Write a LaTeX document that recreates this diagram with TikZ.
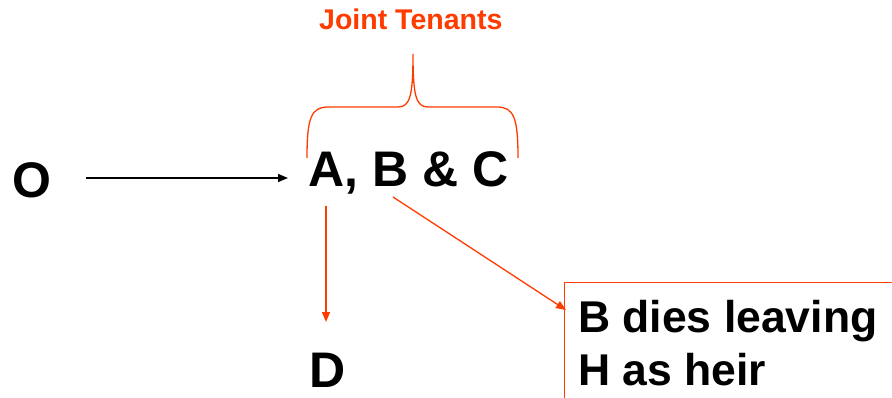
\documentclass[tikz,border=0pt]{standalone}
\usepackage{fontspec}
\setmainfont{Liberation Sans}
\usetikzlibrary{arrows.meta}
\definecolor{jred}{RGB}{255,60,0}
\begin{document}
\begin{tikzpicture}[x=1pt,y=-1pt,
  lbl/.style={anchor=base west,inner sep=0pt,font=\fontsize{50}{60}\selectfont\bfseries},
  arr/.style={line width=1.3pt,-{Triangle[length=10pt,width=8pt]}},
  redline/.style={jred,line width=1.3pt}]
\useasboundingbox (0,0) rectangle (892,398);
\clip (0,0) rectangle (892,398);
\fill[white] (0,0) rectangle (892,398);
% texts
\node[lbl] (O) at (12,198) {O};
\node[lbl] (ABC) at (308,187) {A, B \& C};
\node[lbl] (D) at (309,387) {D};
\node[anchor=base west,inner sep=0pt,text=jred,font=\fontsize{28.5}{34}\selectfont\bfseries] (JT) at (319,30) {Joint Tenants};
\node[anchor=north west,draw=jred,line width=1.3pt,minimum width=400pt,minimum height=200pt,
  inner sep=0pt] (box) at (564,282) {};
\node[anchor=base west,inner sep=0pt,align=left,font=\fontsize{44.5}{53}\selectfont\bfseries] (heir) at (578,385) {B dies leaving\\H as heir};
% brace
\draw[redline] (307,158) .. controls (307,118) and (311,107) .. (328,107) -- (398,107)
  .. controls (410,107) and (413,96) .. (413,54)
  .. controls (413,96) and (416,107) .. (428,107) -- (497,107)
  .. controls (514,107) and (518,118) .. (518,158);
% arrows
\coordinate (o1) at (86,178);
\coordinate (o2) at (288,178);
\draw[arr] (o1) -- (o2);
\coordinate (a1) at (326,206);
\coordinate (d1) at (326,322);
\draw[arr,jred] (a1) -- (d1);
\coordinate (b1) at (393,197);
\coordinate (h1) at (566,310);
\draw[arr,jred] (b1) -- (h1);
\end{tikzpicture}
\end{document}
